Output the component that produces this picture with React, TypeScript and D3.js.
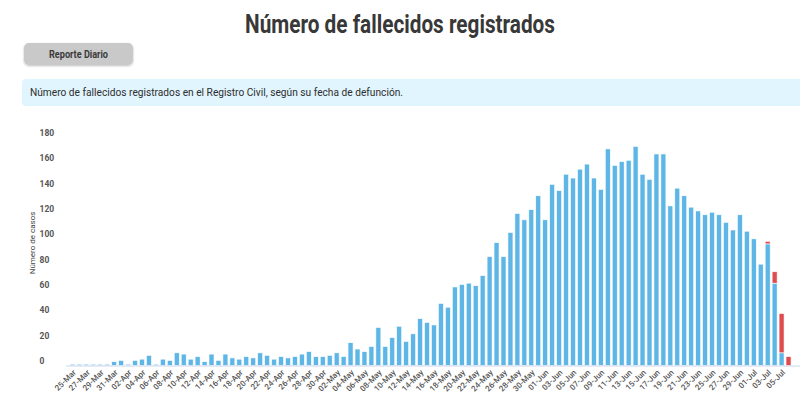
import React from "react";
import * as d3 from "d3";

// fechas de defunción (eje x)
const categories = [
  "25-Mar", "26-Mar", "27-Mar", "28-Mar", "29-Mar", "30-Mar", "31-Mar",
  "01-Apr", "02-Apr", "03-Apr", "04-Apr", "05-Apr", "06-Apr", "07-Apr", "08-Apr", "09-Apr", "10-Apr",
  "11-Apr", "12-Apr", "13-Apr", "14-Apr", "15-Apr", "16-Apr", "17-Apr", "18-Apr", "19-Apr", "20-Apr",
  "21-Apr", "22-Apr", "23-Apr", "24-Apr", "25-Apr", "26-Apr", "27-Apr", "28-Apr", "29-Apr", "30-Apr",
  "01-May", "02-May", "03-May", "04-May", "05-May", "06-May", "07-May", "08-May", "09-May", "10-May",
  "11-May", "12-May", "13-May", "14-May", "15-May", "16-May", "17-May", "18-May", "19-May", "20-May",
  "21-May", "22-May", "23-May", "24-May", "25-May", "26-May", "27-May", "28-May", "29-May", "30-May", "31-May",
  "01-Jun", "02-Jun", "03-Jun", "04-Jun", "05-Jun", "06-Jun", "07-Jun", "08-Jun", "09-Jun", "10-Jun",
  "11-Jun", "12-Jun", "13-Jun", "14-Jun", "15-Jun", "16-Jun", "17-Jun", "18-Jun", "19-Jun", "20-Jun",
  "21-Jun", "22-Jun", "23-Jun", "24-Jun", "25-Jun", "26-Jun", "27-Jun", "28-Jun", "29-Jun", "30-Jun",
  "01-Jul", "02-Jul", "03-Jul", "04-Jul", "05-Jul", "06-Jul",
];

// fallecidos registrados (azul)
const registrados = [
  1, 1, 1, 1, 1, 1, 3,
  4, 1, 4, 5, 8, 1, 5, 4, 10, 9,
  5, 7, 3, 9, 4, 9, 6, 5, 7, 6,
  10, 8, 5, 7, 6, 7, 9, 11, 7, 7,
  8, 10, 7, 18, 13, 11, 15, 30, 15, 22,
  31, 19, 25, 37, 34, 32, 49, 46, 62, 64,
  65, 63, 71, 86, 97, 86, 105, 120, 115, 123, 134,
  115, 143, 138, 151, 148, 155, 159, 148, 139, 171,
  158, 161, 162, 173, 151, 147, 167, 167, 126, 140,
  134, 125, 122, 119, 121, 119, 113, 107, 119, 106,
  100, 80, 96, 65, 10, 0,
];

// registros pendientes de los últimos días (rojo)
const pendientes = [
  0, 0, 0, 0, 0, 0, 0,
  0, 0, 0, 0, 0, 0, 0, 0, 0, 0,
  0, 0, 0, 0, 0, 0, 0, 0, 0, 0,
  0, 0, 0, 0, 0, 0, 0, 0, 0, 0,
  0, 0, 0, 0, 0, 0, 0, 0, 0, 0,
  0, 0, 0, 0, 0, 0, 0, 0, 0, 0,
  0, 0, 0, 0, 0, 0, 0, 0, 0, 0, 0,
  0, 0, 0, 0, 0, 0, 0, 0, 0, 0,
  0, 0, 0, 0, 0, 0, 0, 0, 0, 0,
  0, 0, 0, 0, 0, 0, 0, 0, 0, 0,
  0, 0, 2, 9, 31, 7,
];

const yTicks = [0, 20, 40, 60, 80, 100, 120, 140, 160, 180];

const colors = { registrados: "#5eb6e6", pendientes: "#e04b4f" };

const width = 800;
const height = 393;
const plotLeft = 69;
const plotRight = 792;
const plotTop = 137.5;
const plotBottom = 365.5;

const App = () => {
  const x = d3
    .scaleBand()
    .domain(categories)
    .range([plotLeft, plotRight])
    .paddingInner(0.28)
    .paddingOuter(0.14);
  const y = d3.scaleLinear().domain([0, 180]).range([plotBottom, plotTop]);

  const rows = categories.map((c, i) => ({
    fecha: c,
    registrados: registrados[i],
    pendientes: pendientes[i],
  }));
  const series = d3.stack().keys(["registrados", "pendientes"])(rows as any);

  const font = "Roboto, 'Noto Sans', sans-serif";

  return (
    <svg
      width={width}
      height={height}
      style={{ position: "absolute", left: 0, top: 0, fontFamily: font }}
    >
      <defs>
        <filter id="sombra" x="-10%" y="-20%" width="120%" height="160%">
          <feDropShadow dx="0" dy="1" stdDeviation="1" floodColor="#000" floodOpacity="0.25" />
        </filter>
      </defs>
      <rect width={width} height={height} fill="#fff" />

      <text
        x={400}
        y={33}
        textAnchor="middle"
        fontSize={26}
        fontWeight="bold"
        fill="#383838"
        textLength={310}
        lengthAdjust="spacingAndGlyphs"
      >
        Número de fallecidos registrados
      </text>

      <rect x={24} y={43} width={109} height={22} rx={5} fill="#c9c9c9" filter="url(#sombra)" />
      <text
        x={78.5}
        y={57.5}
        textAnchor="middle"
        fontSize={10}
        fontWeight="bold"
        fill="#3a3a3a"
        textLength={59}
        lengthAdjust="spacingAndGlyphs"
      >
        Reporte Diario
      </text>

      <rect x={22} y={79} width={800} height={27} rx={4} fill="#e1f5fe" />
      <text
        x={30}
        y={96}
        fontSize={10.5}
        fill="#2e2e2e"
        textLength={373}
        lengthAdjust="spacingAndGlyphs"
      >
        Número de fallecidos registrados en el Registro Civil, según su fecha de defunción.
      </text>

      {/* eje y */}
      {yTicks.map((t) => (
        <text key={t} x={39.5} y={y(t) - 1.5} fontSize={8.5} fontWeight="bold" fill="#555">
          {t}
        </text>
      ))}
      <text
        transform={`translate(34.5, 243) rotate(-90)`}
        textAnchor="middle"
        fontSize={8}
        fill="#444"
      >
        Número de casos
      </text>

      {/* barras apiladas */}
      {series.map((s) => (
        <g key={s.key} fill={colors[s.key as keyof typeof colors]}>
          {s.map((d, i) =>
            d[1] - d[0] > 0 ? (
              <rect
                key={i}
                x={x(categories[i])}
                y={y(d[1])}
                width={x.bandwidth()}
                height={y(d[0]) - y(d[1])}
                stroke="#fff"
                strokeWidth={0.6}
              />
            ) : null
          )}
        </g>
      ))}

      <line x1={66} x2={800} y1={plotBottom + 0.5} y2={plotBottom + 0.5} stroke="#ccd6eb" />

      {/* eje x */}
      {categories.map((c, i) =>
        i % 2 === 0 ? (
          <text
            key={c}
            transform={`translate(${(x(c) as number) + x.bandwidth() / 2 + 4}, 373) rotate(-45)`}
            textAnchor="end"
            fontSize={8}
            fontWeight={500}
            fill="#555"
          >
            {c}
          </text>
        ) : null
      )}
    </svg>
  );
};

export default App;
